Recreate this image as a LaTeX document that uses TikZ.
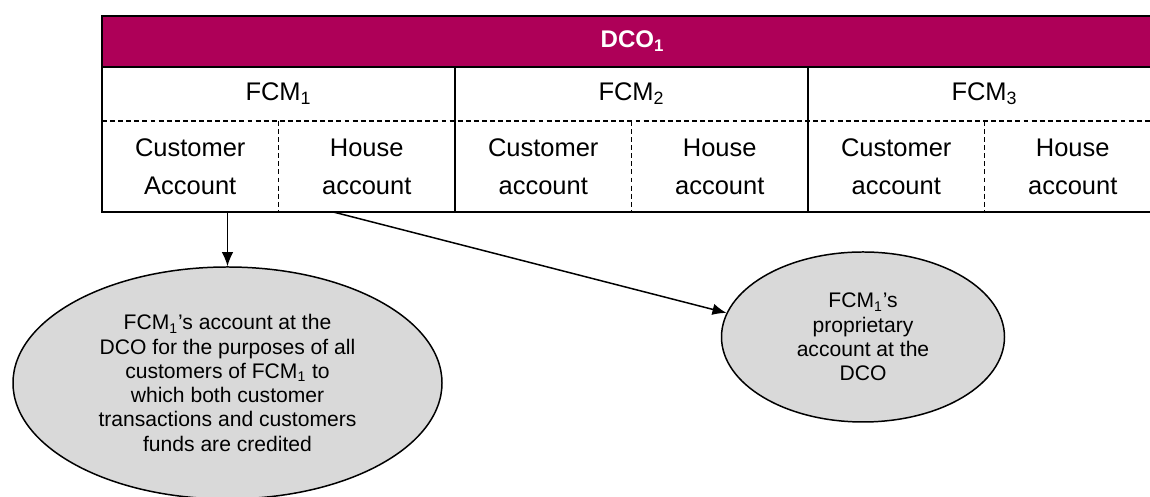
\documentclass[tikz,border=0pt]{standalone}
\usepackage{fontspec}
\setmainfont{Liberation Sans}
\usetikzlibrary{positioning,shapes.geometric,arrows.meta}
\definecolor{dcored}{RGB}{174,0,88}
\definecolor{ovalgrey}{RGB}{217,217,217}
\begin{document}
\begin{tikzpicture}[>={Latex[length=2.8mm,width=2.3mm]}, line width=0.85pt,
    hdr/.style={draw, fill=dcored, text=white, minimum width=21.22cm, minimum height=1.02cm,
      outer sep=0pt, inner sep=0pt, font=\fontsize{13.7}{16}\selectfont\bfseries},
    fcmcell/.style={minimum width=7.06cm, minimum height=1.08cm, outer sep=0pt, inner sep=0pt,
      font=\fontsize{14.5}{17}\selectfont},
    acccell/.style={minimum width=3.53cm, minimum height=1.82cm, outer sep=0pt, inner sep=0pt,
      align=center, font=\fontsize{14.5}{21.6}\selectfont},
    oval/.style={draw, ellipse, fill=ovalgrey, inner sep=0pt, align=center,
      font=\fontsize{12}{13.8}\selectfont},
    dashline/.style={dash pattern=on 2.8pt off 1.8pt}]
        \path[use as bounding box, clip] (0,0) rectangle (23,9.94);

        \node[hdr] (dco) at (12.65,9.11) {DCO\textsubscript{1}};
        \node[fcmcell, anchor=north west] (fcm1) at (dco.south west) {FCM\textsubscript{1}};
        \node[fcmcell, right=0pt of fcm1] (fcm2) {FCM\textsubscript{2}};
        \node[fcmcell, right=0pt of fcm2] (fcm3) {FCM\textsubscript{3}};

        \node[acccell, anchor=north west] (cust1) at (fcm1.south west) {Customer\\Account};
        \node[acccell, right=0pt of cust1] (house1) {House\\account};
        \node[acccell, anchor=north west] (cust2) at (fcm2.south west) {Customer\\account};
        \node[acccell, right=0pt of cust2] (house2) {House\\account};
        \node[acccell, anchor=north west] (cust3) at (fcm3.south west) {Customer\\account};
        \node[acccell, right=0pt of cust3] (house3) {House\\account};

        \draw (fcm1.north west) rectangle (house1.south east);
        \draw (fcm2.north west) rectangle (house2.south east);
        \draw (fcm3.north west) rectangle (house3.south east);
        \draw[dashline] (fcm1.south west) -- (fcm3.south east);
        \draw[dashline] (cust1.north east) -- (cust1.south east);
        \draw[dashline] (cust2.north east) -- (cust2.south east);
        \draw[dashline] (cust3.north east) -- (cust3.south east);

        \node[oval, minimum width=8.58cm, minimum height=4.64cm] (custoval) at (4.55,2.28)
          {FCM\textsubscript{1}’s account at the\\ DCO for the purposes of all\\
           customers of FCM\textsubscript{1} to\\ which both customer\\
           transactions and customers\\ funds are credited};
        \node[oval, minimum width=5.66cm, minimum height=3.4cm] (propoval) at (17.26,3.2)
          {FCM\textsubscript{1}’s\\ proprietary\\ account at the\\ DCO};

        \draw[->] (cust1.south -| custoval.north) -- (custoval.north);
        \draw[->] ([xshift=-0.67cm]house1.south) -- (propoval.170);
  \end{tikzpicture}
\end{document}
